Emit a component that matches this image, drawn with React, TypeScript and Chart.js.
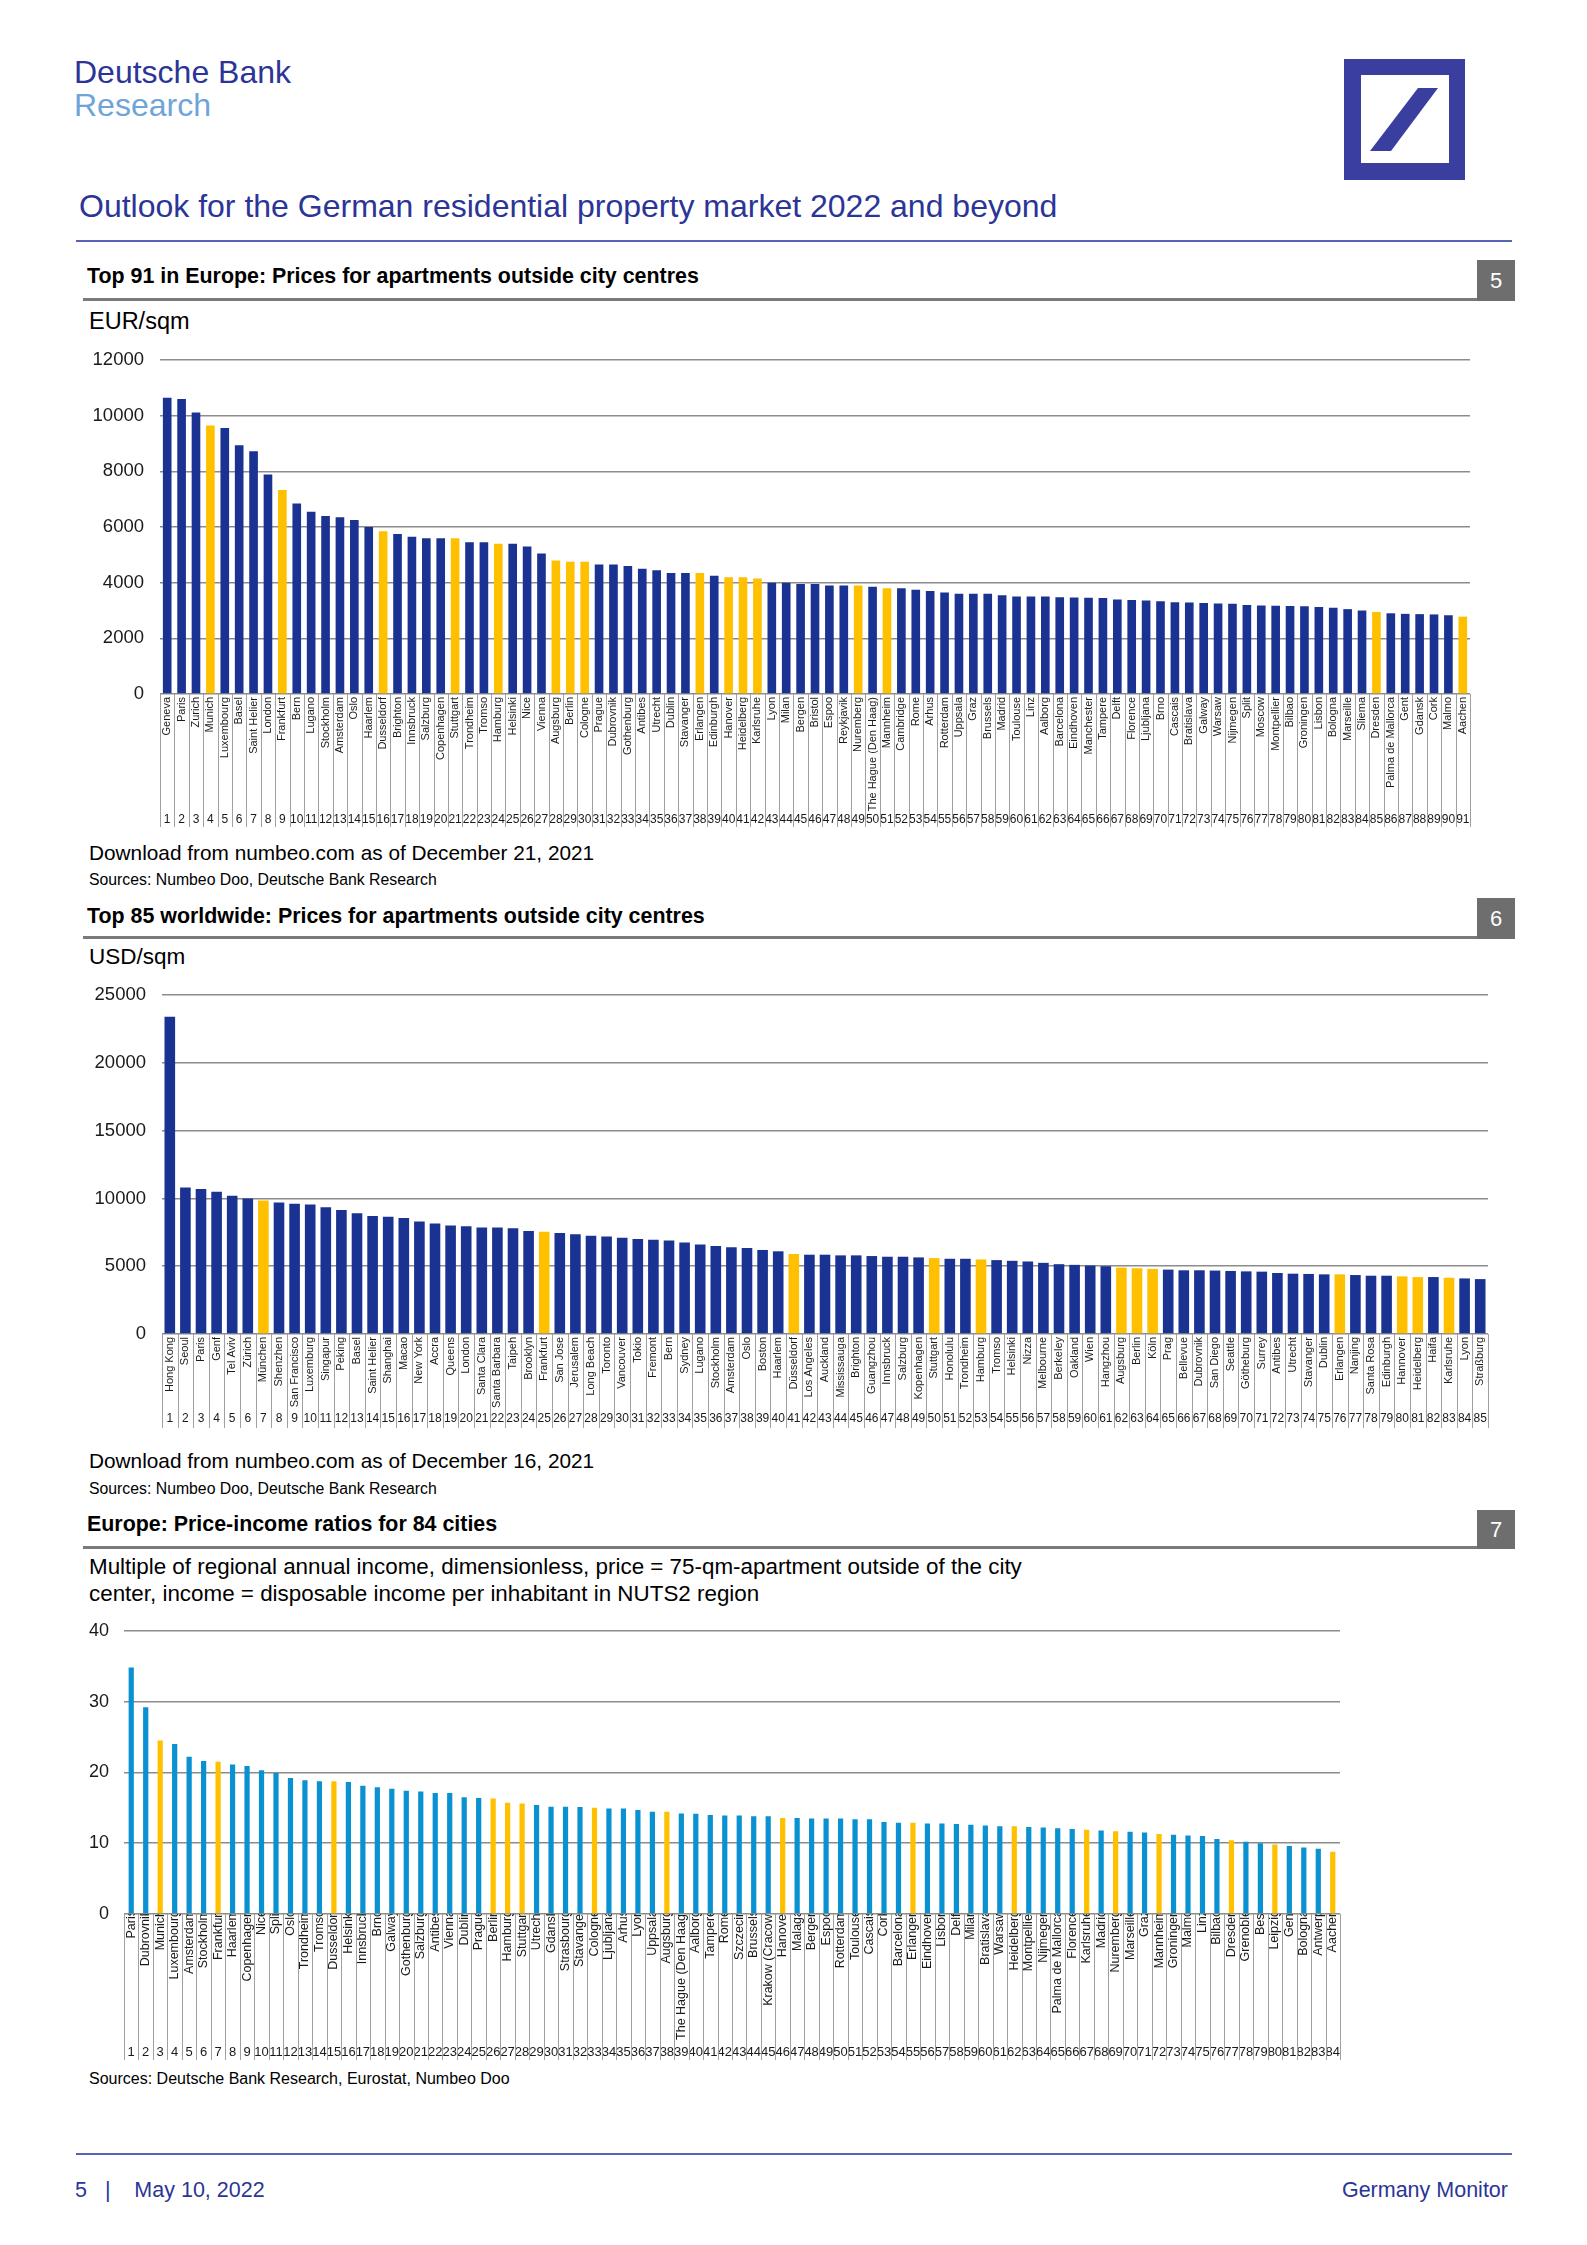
import React, { useEffect, useRef } from "react";
import { Chart, registerables } from "chart.js";

Chart.register(...registerables);

// ---------------- DATA ----------------
const europeCities = [
  "Geneva", "Paris", "Zurich", "Munich", "Luxembourg", "Basel", "Saint Helier", "London", "Frankfurt", "Bern",
  "Lugano", "Stockholm", "Amsterdam", "Oslo", "Haarlem", "Dusseldorf", "Brighton", "Innsbruck", "Salzburg", "Copenhagen",
  "Stuttgart", "Trondheim", "Tromso", "Hamburg", "Helsinki", "Nice", "Vienna", "Augsburg", "Berlin", "Cologne",
  "Prague", "Dubrovnik", "Gothenburg", "Antibes", "Utrecht", "Dublin", "Stavanger", "Erlangen", "Edinburgh", "Hanover",
  "Heidelberg", "Karlsruhe", "Lyon", "Milan", "Bergen", "Bristol", "Espoo", "Reykjavik", "Nuremberg", "The Hague (Den Haag)",
  "Mannheim", "Cambridge", "Rome", "Arhus", "Rotterdam", "Uppsala", "Graz", "Brussels", "Madrid", "Toulouse",
  "Linz", "Aalborg", "Barcelona", "Eindhoven", "Manchester", "Tampere", "Delft", "Florence", "Ljubljana", "Brno",
  "Cascais", "Bratislava", "Galway", "Warsaw", "Nijmegen", "Split", "Moscow", "Montpellier", "Bilbao", "Groningen",
  "Lisbon", "Bologna", "Marseille", "Sliema", "Dresden", "Palma de Mallorca", "Gent", "Gdansk", "Cork", "Malmo",
  "Aachen",
];
const europePrices = [
  10650, 10600, 10120, 9650, 9560, 8940, 8720, 7890, 7330, 6850,
  6550, 6400, 6350, 6250, 6000, 5850, 5750, 5650, 5600, 5600,
  5600, 5450, 5450, 5400, 5400, 5300, 5050, 4800, 4750, 4750,
  4650, 4650, 4600, 4500, 4450, 4350, 4350, 4350, 4250, 4200,
  4200, 4150, 4000, 4000, 3950, 3950, 3900, 3900, 3900, 3850,
  3800, 3800, 3750, 3700, 3650, 3600, 3600, 3600, 3550, 3500,
  3500, 3500, 3480, 3470, 3460, 3450, 3400, 3380, 3360, 3330,
  3300, 3290, 3270, 3250, 3240, 3200, 3180, 3170, 3160, 3150,
  3130, 3100, 3050, 3000, 2950, 2900, 2880, 2870, 2860, 2830,
  2780,
];
const europeGerman = [
  "Munich", "Frankfurt", "Dusseldorf", "Stuttgart", "Hamburg", "Augsburg", "Berlin", "Cologne",
  "Erlangen", "Hanover", "Heidelberg", "Karlsruhe", "Nuremberg", "Mannheim", "Dresden", "Aachen",
];
const europeRanks = europeCities.map((_, i) => String(i + 1));
const europeYTicks = [0, 2000, 4000, 6000, 8000, 10000, 12000];

const worldCities = [
  "Hong Kong", "Seoul", "Paris", "Genf", "Tel Aviv", "Zürich", "München", "Shenzhen", "San Francisco", "Luxemburg",
  "Singapur", "Peking", "Basel", "Saint Helier", "Shanghai", "Macao", "New York", "Accra", "Queens", "London",
  "Santa Clara", "Santa Barbara", "Taipeh", "Brooklyn", "Frankfurt", "San Jose", "Jerusalem", "Long Beach", "Toronto", "Vancouver",
  "Tokio", "Fremont", "Bern", "Sydney", "Lugano", "Stockholm", "Amsterdam", "Oslo", "Boston", "Haarlem",
  "Düsseldorf", "Los Angeles", "Auckland", "Mississauga", "Brighton", "Guangzhou", "Innsbruck", "Salzburg", "Kopenhagen", "Stuttgart",
  "Honolulu", "Trondheim", "Hamburg", "Tromso", "Helsinki", "Nizza", "Melbourne", "Berkeley", "Oakland", "Wien",
  "Hangzhou", "Augsburg", "Berlin", "Köln", "Prag", "Bellevue", "Dubrovnik", "San Diego", "Seattle", "Götheburg",
  "Surrey", "Antibes", "Utrecht", "Stavanger", "Dublin", "Erlangen", "Nanjing", "Santa Rosa", "Edinburgh", "Hannover",
  "Heidelberg", "Haifa", "Karlsruhe", "Lyon", "Straßburg",
];
const worldPrices = [
  23400, 10800, 10700, 10500, 10200, 10000, 9850, 9700, 9600, 9550,
  9350, 9150, 8900, 8700, 8650, 8550, 8300, 8150, 8000, 7950,
  7850, 7850, 7800, 7600, 7550, 7450, 7350, 7250, 7200, 7100,
  7000, 6950, 6900, 6750, 6600, 6500, 6400, 6350, 6200, 6100,
  5900, 5850, 5850, 5800, 5800, 5750, 5700, 5700, 5650, 5600,
  5550, 5550, 5500, 5450, 5400, 5350, 5250, 5150, 5100, 5050,
  5000, 4900, 4850, 4800, 4750, 4700, 4700, 4680, 4650, 4620,
  4600, 4500, 4450, 4430, 4400, 4400, 4350, 4300, 4300, 4250,
  4200, 4200, 4150, 4100, 4050,
];
const worldGerman = [
  "München", "Frankfurt", "Düsseldorf", "Stuttgart", "Hamburg", "Augsburg", "Berlin", "Köln",
  "Erlangen", "Hannover", "Heidelberg", "Karlsruhe",
];
const worldRanks = worldCities.map((_, i) => String(i + 1));
const worldYTicks = [0, 5000, 10000, 15000, 20000, 25000];

const ratioCities = [
  "Paris", "Dubrovnik", "Munich", "Luxembourg", "Amsterdam", "Stockholm", "Frankfurt", "Haarlem", "Copenhagen", "Nice",
  "Split", "Oslo", "Trondheim", "Tromso", "Dusseldorf", "Helsinki", "Innsbruck", "Brno", "Galway", "Gothenburg",
  "Salzburg", "Antibes", "Vienna", "Dublin", "Prague", "Berlin", "Hamburg", "Stuttgart", "Utrecht", "Gdansk",
  "Strasbourg", "Stavanger", "Cologne", "Ljubljana", "Arhus", "Lyon", "Uppsala", "Augsburg", "The Hague (Den Haag)", "Aalborg",
  "Tampere", "Rome", "Szczecin", "Brussels", "Krakow (Cracow)", "Hanover", "Malaga", "Bergen", "Espoo", "Rotterdam",
  "Toulouse", "Cascais", "Cork", "Barcelona", "Erlangen", "Eindhoven", "Lisbon", "Delft", "Milan", "Bratislava",
  "Warsaw", "Heidelberg", "Montpellier", "Nijmegen", "Palma de Mallorca", "Florence", "Karlsruhe", "Madrid", "Nuremberg", "Marseille",
  "Graz", "Mannheim", "Groningen", "Malmo", "Linz", "Bilbao", "Dresden", "Grenoble", "Best", "Leipzig",
  "Gent", "Bologna", "Antwerp", "Aachen",
];
const ratioValues = [
  34.8, 29.2, 24.5, 24.0, 22.2, 21.6, 21.5, 21.1, 20.9, 20.3,
  19.9, 19.2, 18.9, 18.75, 18.75, 18.65, 18.1, 17.9, 17.7, 17.4,
  17.3, 17.1, 17.1, 16.5, 16.4, 16.3, 15.7, 15.6, 15.4, 15.15,
  15.15, 15.1, 15.0, 14.9, 14.9, 14.7, 14.45, 14.45, 14.2, 14.15,
  14.0, 13.9, 13.9, 13.8, 13.8, 13.55, 13.55, 13.5, 13.5, 13.5,
  13.4, 13.4, 13.0, 12.9, 12.9, 12.8, 12.8, 12.7, 12.6, 12.5,
  12.4, 12.4, 12.3, 12.2, 12.1, 12.0, 11.9, 11.8, 11.7, 11.6,
  11.5, 11.3, 11.2, 11.1, 11.0, 10.6, 10.4, 10.2, 10.0, 9.8,
  9.6, 9.4, 9.2, 8.8,
];
const ratioGerman = [
  "Munich", "Frankfurt", "Dusseldorf", "Berlin", "Hamburg", "Stuttgart", "Cologne", "Augsburg", "Hanover",
  "Erlangen", "Heidelberg", "Karlsruhe", "Nuremberg", "Mannheim", "Dresden", "Leipzig", "Aachen",
];
const ratioRanks = ratioCities.map((_, i) => String(i + 1));
const ratioYTicks = [0, 10, 20, 30, 40];

// ---------------- STYLE ----------------
const FONT = '"Liberation Sans", Arial, Helvetica, sans-serif';
const DB_BLUE = "#2b3597";
const NAVY = "#1a3291";
const SKY = "#0a91d1";
const YELLOW = "#ffc000";
const GRID = "#8c8c8c";

const colorsFor = (cities: string[], german: string[], base: string) =>
  cities.map((c) => (german.includes(c) ? YELLOW : base));

const tablePlugin = {
  id: "tableLines",
  afterDraw(chart: any, _args: any, opts: any) {
    const xs = chart.scales.x;
    const x2 = chart.scales.x2;
    const n = xs.getLabels().length;
    const step = (xs.right - xs.left) / n;
    const ctx = chart.ctx;
    ctx.save();
    ctx.strokeStyle = opts.color || "#999";
    ctx.lineWidth = 1;
    for (let i = 0; i <= n; i++) {
      const px = Math.round(xs.left + i * step) + 0.5;
      ctx.beginPath();
      ctx.moveTo(px, xs.top);
      ctx.lineTo(px, x2.bottom - (opts.inset || 0));
      ctx.stroke();
    }
    ctx.restore();
  },
};

type PanelProps = {
  left: number; top: number; width: number; height: number;
  labels: string[]; ranks: string[]; values: number[]; colors: string[];
  yTicks: number[]; yAxisWidth: number; yPad: number; yFont: number;
  xHeight: number; x2Height: number; xPad: number; x2Pad: number;
  labelFont: number; rankFont: number; barPct: number;
  pad: { top: number; right: number; bottom: number; left: number };
  lineInset: number;
};

function BarPanel(p: PanelProps) {
  const ref = useRef<HTMLCanvasElement>(null);
  useEffect(() => {
    const canvas = ref.current;
    if (!canvas) return;
    const chart = new Chart(canvas, {
      type: "bar",
      data: {
        labels: p.labels,
        datasets: [
          {
            data: p.values,
            backgroundColor: p.colors,
            borderWidth: 0,
            barPercentage: p.barPct,
            categoryPercentage: 1,
          },
        ],
      },
      options: {
        animation: false,
        responsive: false,
        maintainAspectRatio: false,
        devicePixelRatio: 1,
        layout: { padding: p.pad },
        plugins: {
          legend: { display: false },
          tooltip: { enabled: false },
          // @ts-ignore
          tableLines: { color: "#a0a0a0", inset: p.lineInset },
        },
        scales: {
          x: {
            type: "category",
            offset: true,
            weight: 0,
            grid: { display: false, drawTicks: false },
            border: { display: false },
            ticks: {
              autoSkip: false,
              maxRotation: 90,
              minRotation: 90,
              padding: p.xPad,
              color: "#1a1a1a",
              font: { family: FONT, size: p.labelFont },
            },
            afterFit: (s: any) => { s.height = p.xHeight; },
          },
          x2: {
            type: "category",
            position: "bottom",
            labels: p.ranks,
            offset: true,
            weight: 1,
            grid: { display: false, drawTicks: false },
            border: { display: false },
            ticks: {
              autoSkip: false,
              maxRotation: 0,
              minRotation: 0,
              padding: p.x2Pad,
              color: "#1a1a1a",
              font: { family: FONT, size: p.rankFont },
            },
            afterFit: (s: any) => { s.height = p.x2Height; },
          },
          y: {
            min: p.yTicks[0],
            max: p.yTicks[p.yTicks.length - 1],
            afterBuildTicks: (s: any) => { s.ticks = p.yTicks.map((v) => ({ value: v })); },
            ticks: {
              padding: p.yPad,
              color: "#1a1a1a",
              font: { family: FONT, size: p.yFont },
              callback: (v: any) => String(v),
            },
            grid: { color: GRID, lineWidth: 1.5, drawTicks: false },
            border: { display: false },
            afterFit: (s: any) => { s.width = p.yAxisWidth; },
          },
        },
      } as any,
      plugins: [tablePlugin as any],
    });
    return () => chart.destroy();
  }, []);
  return (
    <canvas
      ref={ref}
      width={p.width}
      height={p.height}
      style={{ position: "absolute", left: p.left, top: p.top, width: p.width, height: p.height }}
    />
  );
}

function Txt(props: {
  x: number; top: number; size: number; color?: string; bold?: boolean;
  right?: boolean; children: React.ReactNode;
}) {
  const style: React.CSSProperties = {
    position: "absolute",
    top: props.top,
    fontSize: props.size,
    lineHeight: `${props.size}px`,
    fontWeight: props.bold ? "bold" : "normal",
    color: props.color || "#000",
    whiteSpace: "pre",
    fontFamily: FONT,
  };
  if (props.right) style.right = 1587 - props.x;
  else style.left = props.x;
  return <div style={style}>{props.children}</div>;
}

function SectionHead(props: { title: string; num: string; titleTop: number; boxTop: number; boxBottom: number; lineY: number }) {
  return (
    <>
      <Txt x={87} top={props.titleTop} size={21.4} bold>{props.title}</Txt>
      <div style={{ position: "absolute", left: 83, top: props.lineY, width: 1394, height: 3, background: "#7a7a7a" }} />
      <div
        style={{
          position: "absolute", left: 1477, top: props.boxTop, width: 38, height: props.boxBottom - props.boxTop,
          background: "#6e6e6e", color: "#fff", fontFamily: FONT, fontSize: 22,
          display: "flex", alignItems: "center", justifyContent: "center",
        }}
      >
        {props.num}
      </div>
    </>
  );
}

export default function App() {
  return (
    <div style={{ position: "absolute", left: 0, top: 0, width: 1587, height: 2245, background: "#fff", overflow: "hidden", fontFamily: FONT }}>
      {/* Header */}
      <Txt x={74} top={56} size={32} color={DB_BLUE}>Deutsche Bank</Txt>
      <Txt x={74} top={89} size={32} color="#6fa4d9">Research</Txt>
      <svg style={{ position: "absolute", left: 1344, top: 59 }} width={121} height={121} viewBox="0 0 121 121">
        <rect x={0} y={0} width={121} height={121} fill="#3a3e9f" />
        <rect x={17} y={16} width={88} height={88} fill="#fff" />
        <polygon points="74,29 94,29 47,92 26,92" fill="#3a3e9f" />
      </svg>
      <Txt x={79} top={190} size={32} color={DB_BLUE}>Outlook for the German residential property market 2022 and beyond</Txt>
      <div style={{ position: "absolute", left: 76, top: 240, width: 1436, height: 2, background: "#5863b5" }} />

      {/* Chart 5 */}
      <SectionHead title="Top 91 in Europe: Prices for apartments outside city centres" num="5" titleTop={266} boxTop={260} boxBottom={301} lineY={298} />
      <Txt x={89} top={310} size={23.5}>EUR/sqm</Txt>
      <BarPanel
        left={84} top={333} width={1406} height={503}
        labels={europeCities} ranks={europeRanks} values={europePrices}
        colors={colorsFor(europeCities, europeGerman, NAVY)}
        yTicks={europeYTicks}
        yAxisWidth={76} yPad={16} yFont={18.5}
        xHeight={117} x2Height={19} xPad={3} x2Pad={1}
        labelFont={11} rankFont={12} barPct={0.6}
        pad={{ top: 0, right: 20, bottom: 6, left: 0 }} lineInset={3}
      />
      <Txt x={89} top={843} size={20.8}>Download from numbeo.com as of December 21, 2021</Txt>
      <Txt x={89} top={872} size={15.8}>Sources: Numbeo Doo, Deutsche Bank Research</Txt>

      {/* Chart 6 */}
      <SectionHead title="Top 85 worldwide: Prices for apartments outside city centres" num="6" titleTop={906} boxTop={898} boxBottom={939} lineY={936} />
      <Txt x={89} top={946} size={22.5}>USD/sqm</Txt>
      <BarPanel
        left={84} top={968} width={1424} height={466}
        labels={worldCities} ranks={worldRanks} values={worldPrices}
        colors={colorsFor(worldCities, worldGerman, NAVY)}
        yTicks={worldYTicks}
        yAxisWidth={78} yPad={16} yFont={18.5}
        xHeight={74} x2Height={20} xPad={3} x2Pad={3}
        labelFont={11} rankFont={12} barPct={0.68}
        pad={{ top: 0, right: 20, bottom: 6, left: 0 }} lineInset={0}
      />
      <Txt x={89} top={1451} size={20.8}>Download from numbeo.com as of December 16, 2021</Txt>
      <Txt x={89} top={1481} size={15.8}>Sources: Numbeo Doo, Deutsche Bank Research</Txt>

      {/* Chart 7 */}
      <SectionHead title="Europe: Price-income ratios for 84 cities" num="7" titleTop={1514} boxTop={1510} boxBottom={1549} lineY={1546} />
      <Txt x={89} top={1556} size={22.4}>Multiple of regional annual income, dimensionless, price = 75-qm-apartment outside of the city</Txt>
      <Txt x={89} top={1583} size={22.4}>center, income = disposable income per inhabitant in NUTS2 region</Txt>
      <BarPanel
        left={60} top={1605} width={1300} height={461}
        labels={ratioCities} ranks={ratioRanks} values={ratioValues}
        colors={colorsFor(ratioCities, ratioGerman, SKY)}
        yTicks={ratioYTicks}
        yAxisWidth={64} yPad={15} yFont={18}
        xHeight={126} x2Height={20} xPad={-4} x2Pad={5}
        labelFont={12.5} rankFont={13} barPct={0.36}
        pad={{ top: 0, right: 20, bottom: 6, left: 0 }} lineInset={0}
      />
      <Txt x={89} top={2071} size={16}>Sources: Deutsche Bank Research, Eurostat, Numbeo Doo</Txt>

      {/* Footer */}
      <div style={{ position: "absolute", left: 76, top: 2153, width: 1436, height: 2, background: "#5863b5" }} />
      <Txt x={75} top={2180} size={21.5} color={DB_BLUE}>{"5   |    May 10, 2022"}</Txt>
      <Txt x={1508} top={2180} size={21.5} color={DB_BLUE} right>Germany Monitor</Txt>
    </div>
  );
}
